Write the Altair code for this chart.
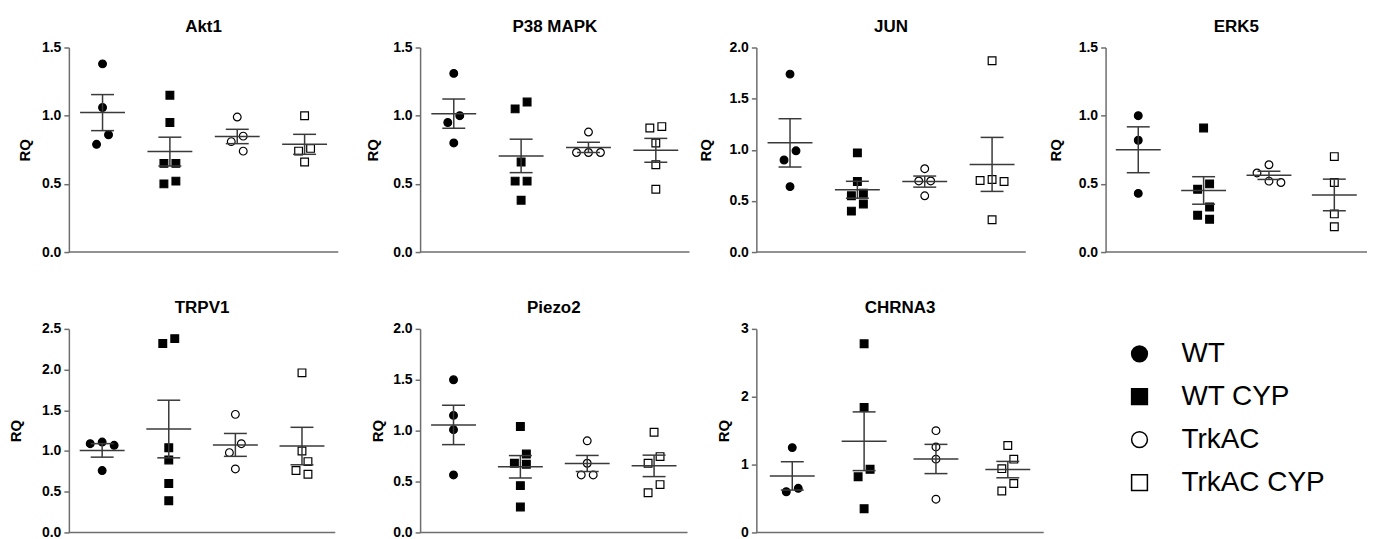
import altair as alt
import pandas as pd

# ---------------- data ----------------
GROUPS = ["WT", "WT CYP", "TrkAC", "TrkAC CYP"]
SHAPES = ["circle", "square", "circle", "square"]
FILLS = ["black", "black", "white", "white"]

# values per group, in GROUPS order
AKT1 = [[1.38, 1.06, 0.86, 0.79],
        [1.15, 0.95, 0.65, 0.65, 0.52, 0.50],
        [0.99, 0.85, 0.81, 0.74],
        [1.00, 0.76, 0.74, 0.66]]
P38_MAPK = [[1.31, 1.00, 0.95, 0.80],
            [1.10, 1.05, 0.66, 0.52, 0.52, 0.38],
            [0.88, 0.73, 0.73, 0.73],
            [0.92, 0.91, 0.80, 0.64, 0.46]]
JUN = [[1.74, 0.99, 0.90, 0.64],
       [0.97, 0.69, 0.575, 0.55, 0.47, 0.40],
       [0.815, 0.695, 0.695, 0.55],
       [1.87, 0.71, 0.69, 0.70, 0.315]]
ERK5 = [[1.00, 0.82, 0.43],
        [0.91, 0.50, 0.46, 0.33, 0.27, 0.24],
        [0.64, 0.58, 0.51, 0.52],
        [0.70, 0.51, 0.28, 0.185]]
TRPV1 = [[1.09, 1.07, 1.11, 0.76],
         [2.38, 2.32, 1.04, 0.89, 0.60, 0.39],
         [1.45, 1.09, 0.98, 0.78],
         [1.96, 1.00, 0.87, 0.76, 0.715]]
PIEZO2 = [[1.50, 1.15, 1.01, 0.565],
          [1.04, 0.77, 0.68, 0.67, 0.46, 0.25],
          [0.90, 0.68, 0.565, 0.565],
          [0.985, 0.745, 0.68, 0.47, 0.39]]
CHRNA3 = [[1.25, 0.60, 0.65],
          [2.78, 1.84, 0.93, 0.82, 0.35],
          [1.50, 1.26, 1.08, 0.49],
          [1.28, 1.08, 0.94, 0.72, 0.61]]

TICKS_15 = [0, 0.5, 1.0, 1.5]
TICKS_20 = [0, 0.5, 1.0, 1.5, 2.0]
TICKS_25 = [0, 0.5, 1.0, 1.5, 2.0, 2.5]
TICKS_3 = [0, 1, 2, 3]

# ---------------- styling / layout ----------------
FONT = "Liberation Sans"
AXIS_GRAY = "#6e6e6e"
BAR_GRAY = "#3a3a3a"
CELL_W = [292, 277, 290, 262]
ROW_H = [205, 204]
COL_SPACING = 60
ROW_SPACING = 77
SWARM_COL_PX = 12
SWARM_NEAR_PX = 10


def swarm_columns(values, px_per_unit):
    """Simple column-scatter layout: spread points that would overlap."""
    ys = [v * px_per_unit for v in values]
    order = sorted(range(len(values)), key=lambda i: -ys[i])
    col = {}
    for i in order:
        for c in (0, -1, 1, -2, 2, -3, 3):
            if all(col[j] != c or abs(ys[i] - ys[j]) >= SWARM_NEAR_PX for j in col):
                col[i] = c
                break
    clusters, cur = [], [order[0]]
    for a, b in zip(order, order[1:]):
        if ys[a] - ys[b] < SWARM_NEAR_PX:
            cur.append(b)
        else:
            clusters.append(cur)
            cur = [b]
    clusters.append(cur)
    out = [0.0] * len(values)
    for cl in clusters:
        cs = [col[i] for i in cl]
        mid = (min(cs) + max(cs)) / 2
        for i in cl:
            out[i] = col[i] - mid
    return out


def panel(name, values, ymax, ticks, fmt, axis_w, col, row, title_pad):
    cell_w = CELL_W[col]
    h = ROW_H[row]
    n = len(GROUPS)
    step = axis_w / n
    recs = []
    for gi, (g, vals) in enumerate(zip(GROUPS, values)):
        for v, c in zip(vals, swarm_columns(vals, h / ymax)):
            recs.append({"group": g, "gi": gi, "xpos": gi + c * SWARM_COL_PX / step, "RQ": v})
    df = pd.DataFrame(recs)

    xs = alt.Scale(domain=[-0.5, -0.5 + n * cell_w / axis_w], nice=False, zero=False)
    ysc = alt.Scale(domain=[0, ymax], nice=False, zero=False)
    yaxis = alt.Axis(values=ticks, format=fmt, title="RQ", titlePadding=title_pad, grid=False)

    def yq(f):
        return alt.Y(f + ":Q", scale=ysc, axis=yaxis)

    base = alt.Chart(df)
    points = base.mark_point(filled=True, size=60, opacity=1, strokeWidth=1.2).encode(
        x=alt.X("xpos:Q", scale=xs, axis=None),
        y=yq("RQ"),
        shape=alt.Shape("group:N", scale=alt.Scale(domain=GROUPS, range=SHAPES),
                        legend=alt.Legend(title=None)),
        fill=alt.Fill("group:N", scale=alt.Scale(domain=GROUPS, range=FILLS),
                      legend=alt.Legend(title=None)),
        stroke=alt.Stroke("group:N", scale=alt.Scale(domain=GROUPS, range=["black"] * 4),
                          legend=alt.Legend(title=None)),
    )
    stats = base.transform_aggregate(
        m="mean(RQ)", se="stderr(RQ)", groupby=["gi"]
    ).transform_calculate(lo="datum.m - datum.se", hi="datum.m + datum.se")
    gx = alt.X("gi:Q", scale=xs, axis=None)
    err = stats.mark_rule(color=BAR_GRAY, strokeWidth=1.5).encode(x=gx, y=yq("lo"), y2="hi:Q")
    mean = stats.mark_tick(orient="horizontal", size=45, thickness=1.5, color=BAR_GRAY,
                           opacity=1).encode(x=gx, y=yq("m"))
    cap_hi = stats.mark_tick(orient="horizontal", size=23, thickness=1.5, color=BAR_GRAY,
                             opacity=1).encode(x=gx, y=yq("hi"))
    cap_lo = stats.mark_tick(orient="horizontal", size=23, thickness=1.5, color=BAR_GRAY,
                             opacity=1).encode(x=gx, y=yq("lo"))
    base_df = pd.DataFrame({"x0": [-0.5], "x1": [n - 0.5], "y0": [0.0]})
    xline = alt.Chart(base_df).mark_rule(color=AXIS_GRAY, strokeWidth=1.5).encode(
        x=alt.X("x0:Q", scale=xs, axis=None), x2="x1:Q", y=yq("y0"))

    return alt.layer(points, err, mean, cap_hi, cap_lo, xline).properties(
        width=cell_w, height=h,
        title=alt.TitleParams(name, dx=-(cell_w - axis_w) / 2),
    )


panels = [
    panel("Akt1", AKT1, 1.5, TICKS_15, ".1f", 270, 0, 0, 9),
    panel("P38 MAPK", P38_MAPK, 1.5, TICKS_15, ".1f", 270, 1, 0, 12),
    panel("JUN", JUN, 2.0, TICKS_20, ".1f", 270, 2, 0, 15),
    panel("ERK5", ERK5, 1.5, TICKS_15, ".1f", 262, 3, 0, 15),
    panel("TRPV1", TRPV1, 2.5, TICKS_25, ".1f", 267, 0, 1, 18),
    panel("Piezo2", PIEZO2, 2.0, TICKS_20, ".1f", 268, 1, 1, 7),
    panel("CHRNA3", CHRNA3, 3, TICKS_3, "d", 288, 2, 1, 9),
]

chart = alt.concat(
    *panels, columns=4, spacing={"row": ROW_SPACING, "column": COL_SPACING}, bounds="flush"
).resolve_scale(
    x="independent", y="independent", shape="shared", fill="shared", stroke="shared"
).properties(
    padding={"left": 0, "top": 9, "right": 0, "bottom": 0}
).configure_view(stroke=None).configure_axis(
    domainColor=AXIS_GRAY, domainWidth=1.5, tickColor=AXIS_GRAY, tickWidth=1.5, tickSize=5,
    labelFont=FONT, labelFontSize=14, labelFontWeight="bold", labelColor="black", labelPadding=3,
    titleFont=FONT, titleFontSize=15, titleFontWeight="bold", titleColor="black",
).configure_title(
    font=FONT, fontSize=17, fontWeight="bold", color="black", anchor="middle",
    frame="group", offset=5,
).configure_legend(
    orient="none", legendX=1059, legendY=293, padding=0,
    symbolSize=250, symbolStrokeWidth=1.5,
    labelFont=FONT, labelFontSize=28, labelColor="black", labelOffset=28, rowPadding=15,
)

chart.save("out.html", embed_options={"renderer": "svg", "actions": False})
